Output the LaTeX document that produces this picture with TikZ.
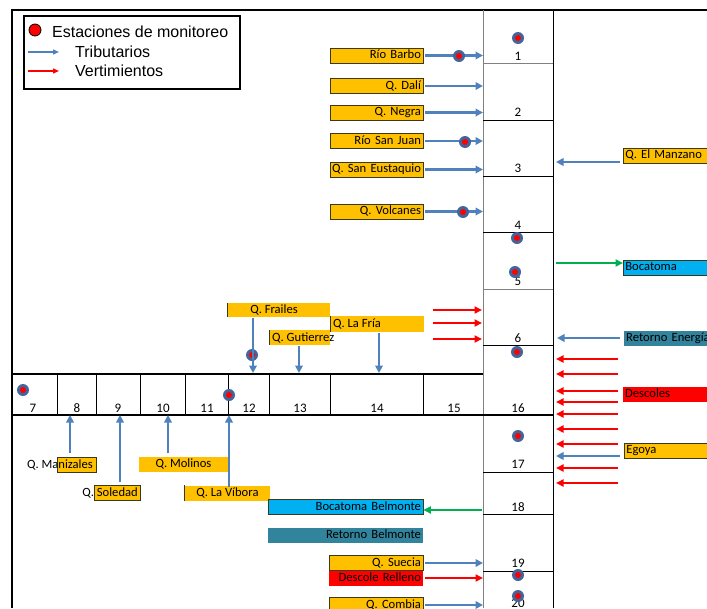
\documentclass[tikz,border=0pt]{standalone}
\usepackage{fontspec}
\setmainfont{Carlito}
\newfontfamily\arialf{Liberation Sans}
\usetikzlibrary{arrows.meta}
\definecolor{gold}{HTML}{FFC000}
\definecolor{sky}{HTML}{00B0F0}
\definecolor{teal}{HTML}{31849B}
\definecolor{tribblue}{HTML}{4F81BD}
\definecolor{dotblue}{HTML}{41669C}
\definecolor{boxline}{HTML}{3A3A1A}
\definecolor{vgreen}{HTML}{00B050}
\definecolor{cellgray}{HTML}{808080}
\begin{document}
\begin{tikzpicture}[x=1pt,y=-1pt,
  lbl/.style={inner sep=0pt, font=\fontsize{12.6}{15}\selectfont},
  num/.style={inner sep=0pt, font=\fontsize{13}{15}\selectfont},
  obox/.style={lbl, minimum height=15pt, inner xsep=2pt, text height=9pt, text depth=2.6pt},
  bordered/.style={draw=boxline, line width=0.7pt},
  tri/.style={draw=tribblue, line width=2.3pt, -{Triangle[length=7.5pt,width=7.5pt]}},
  vert/.style={draw=red, line width=2pt, -{Triangle[length=7.5pt,width=7pt]}},
  intake/.style={draw=vgreen, line width=2pt, -{Triangle[length=7.5pt,width=7pt]}},
  station/.style={circle, fill=dotblue, minimum size=12pt, inner sep=0pt,
    path picture={\fill[red] (path picture bounding box.center) circle (3pt);}},
  cell/.style={line width=0.8pt},
]
\useasboundingbox (0,0) rectangle (707,608);
\clip (0,0) rectangle (707,608);

% outer frame
\draw[line width=1.8pt] (12,608) -- (12,10) -- (707,10);

% legend
\node[draw, line width=1.2pt, minimum width=216pt, minimum height=73pt, inner sep=0pt] (legend) at (132,52.5) {};
\node[circle, fill=red, draw=black, line width=0.8pt, minimum size=12pt, inner sep=0pt] (legdot) at (35,30) {};
\node[anchor=west, inner sep=0pt, font=\arialf\fontsize{16}{18}\selectfont] (legst) at (52,32) {Estaciones de monitoreo};
\coordinate (legt0) at (28,52);
\coordinate (legt1) at (59,52);
\coordinate (legv0) at (28,71);
\coordinate (legv1) at (59,71);
\draw[draw=tribblue, line width=1.4pt, -{Triangle[length=6pt,width=5pt]}] (legt0) -- (legt1);
\draw[draw=red, line width=1.4pt, -{Triangle[length=6pt,width=5pt]}] (legv0) -- (legv1);
\node[anchor=west, inner sep=0pt, font=\arialf\fontsize{16}{18}\selectfont] (legtr) at (75,52) {Tributarios};
\node[anchor=west, inner sep=0pt, font=\arialf\fontsize{16}{18}\selectfont] (legve) at (75,71) {Vertimientos};

% main channel column
\coordinate (colL) at (483,0);
\coordinate (colR) at (553,0);
\draw[cell, draw=cellgray] (483,10) -- (483,608);
\draw[cell] (553,10) -- (553,608);
\draw[cell, draw=cellgray] (483,63) -- (553,63);
\draw[cell] (483,120) -- (553,120);
\draw[cell] (483,176) -- (553,176);
\draw[cell] (483,232) -- (553,232);
\draw[cell, draw=cellgray] (483,289) -- (553,289);
\draw[cell] (483,345) -- (553,345);
\draw[cell] (483,472) -- (553,472);
\draw[cell] (483,514) -- (553,514);
\draw[cell] (483,571) -- (553,571);

% cross band
\draw[line width=1.3pt] (12,374) -- (483,374);
\draw[line width=1.3pt] (12,415) -- (553,415);
\foreach \x in {57,96,140,185,228,269,330,423}
  \draw[cell] (\x,374) -- (\x,415);

% column numbers
\foreach \n/\y in {1/56,2/112,3/168,4/225,5/281,6/338,16/408,17/464,18/507,19/563,20/603}
  \node[num] (k\n) at (518,\y) {\n};
% band numbers
\foreach \n/\x in {7/33,8/77,9/118,10/163,11/207,12/249,13/300,14/377,15/454}
  \node[num] (k\n) at (\x,408) {\n};

% left tributaries
\node[obox, bordered, fill=gold, text width=89pt, align=right] (barbo) at (376.5,55.5) {Río Barbo};
\node[obox, bordered, fill=gold, text width=89pt, align=right] (dali) at (376.5,86) {Q. Dalí};
\node[obox, bordered, fill=gold, text width=89pt, align=right] (negra) at (376.5,112.5) {Q. Negra};
\node[obox, bordered, fill=gold, text width=89pt, align=right] (sjuan) at (376.5,141) {Río San Juan};
\node[obox, bordered, fill=gold, text width=89pt, align=right] (eust) at (376.5,169.5) {\mbox{Q. San Eustaquio}};
\node[obox, bordered, fill=gold, text width=89pt, align=right] (volc) at (376.5,211.5) {Q. Volcanes};
\foreach \b in {barbo,dali,negra,sjuan,eust,volc}
  \draw[tri, shorten <=2pt] (\b.east) -- (\b.east -| colL);

% stations
\foreach \nm/\x/\y in {s1/518/38,s4/517/238,s5/515/272,s6/517/352,s16/518/436,s19/518/575,s20/518/596,
  s7/23/390,s12/229/395,sbarbo/459/56,sjuan/465/142,svolc/463/212,sfrail/252/355}
  \node[station] (\nm) at (\x,\y) {};

% right side
\node[obox, bordered, fill=gold, anchor=west, text width=80pt, align=left] (manz) at (623,155.5) {\mbox{Q. El Manzano}};
\coordinate (manzA) at (620,162);
\draw[tri, shorten >=3pt] (manzA) -- (manzA -| colR);
\node[obox, bordered, fill=sky, anchor=west, text width=90pt, align=left] (boca) at (623,267.5) {Bocatoma};
\coordinate (bocaA) at (556,263);
\draw[intake] (bocaA) -- (bocaA -| boca.west);
\node[obox, fill=teal, anchor=west, text width=100pt, align=left] (retE) at (624,338) {\mbox{Retorno Energía}};
\draw[tri, shorten >=4pt, shorten <=4pt] (retE.west) -- (retE.west -| colR);
\node[obox, fill=red, anchor=west, text width=100pt, align=left] (desc) at (623,394.5) {Descoles};
\node[obox, bordered, fill=gold, anchor=west, text width=100pt, align=left] (egoya) at (624,450.5) {Egoya};
\foreach \i/\y in {1/359,2/374,3/391,4/402,5/414,6/429,7/444,8/468,9/483}{
  \coordinate (dsc\i) at (618,\y);
  \draw[vert, shorten >=3pt] (dsc\i) -- (dsc\i -| colR);
}
\coordinate (egoA) at (620,456);
\draw[tri, shorten >=3pt] (egoA) -- (egoA -| colR);

% upper tributaries to the band
\fill[gold] (227,303) rectangle (330,317);
\node[lbl] (frail) at (274,310) {Q. Frailes};
\draw[boxline, line width=1pt] (227,303) -- (227,317);
\fill[gold] (330,316) rectangle (424,332);
\node[lbl, anchor=west] (fria) at (333,324) {Q. La Fría};
\draw[boxline, line width=1pt] (330,316) -- (330,332);
\fill[gold] (269,330) rectangle (330,345);
\node[lbl, anchor=west] (guti) at (272,338) {Q. Gutierrez};
\draw[boxline, line width=1pt] (269,330) -- (269,345);
\coordinate (frailA) at (253,318);
\coordinate (gutiA) at (299,346);
\coordinate (friaA) at (379,333);
\draw[tri] (frailA) -- (253,373);
\draw[tri] (gutiA) -- (299,373);
\draw[tri] (friaA) -- (379,373);
\foreach \i/\y in {1/310,2/323,3/339}{
  \coordinate (vm\i) at (433,\y);
  \draw[vert, shorten >=1pt] (vm\i) -- (vm\i -| colL);
}

% lower tributaries to the band
\node[obox, bordered, fill=gold, minimum width=39pt, inner xsep=0pt] (maniz) at (76.5,464.5) {};
\node[lbl, anchor=east] (manizT) at (93,464.5) {Q. Manizales};
\node[obox, bordered, fill=gold, minimum width=46pt, inner xsep=0pt] (sole) at (117,493) {};
\node[lbl, anchor=east] (soleT) at (138,493) {Q. Soledad};
\node[obox, fill=gold, minimum width=89pt, inner xsep=0pt] (moli) at (183.5,464.5) {Q. Molinos};
\node[obox, fill=gold, minimum width=85pt, inner xsep=0pt] (vibo) at (227.5,493) {Q. La Víbora};
\draw[boxline, line width=1pt] (vibo.north west) -- (vibo.south west);
\coordinate (manizA) at (70,453);
\coordinate (soleA) at (120,482);
\coordinate (moliA) at (168,453);
\coordinate (viboA) at (229,487);
\foreach \c in {manizA,soleA,moliA,viboA}
  \draw[tri] (\c) -- (\c |- 0,415);

% lower reach
\node[obox, bordered, fill=sky, text width=151pt, align=right] (bbel) at (345.5,507) {Bocatoma Belmonte};
\coordinate (bbelA) at (483,510);
\draw[intake, shorten <=1pt] (bbelA) -- (bbelA -| bbel.east);
\node[obox, fill=teal, text width=151pt, align=right] (rbel) at (345.5,535.5) {Retorno Belmonte};
\node[obox, bordered, fill=gold, text width=90pt, align=right] (suec) at (376,563) {Q. Suecia};
\node[obox, fill=red, text width=90pt, align=right] (drel) at (376,578) {\mbox{Descole Relleno}};
\node[obox, bordered, fill=gold, text width=90pt, align=right] (comb) at (376,605) {Q. Combia};
\draw[tri, shorten <=2pt] (suec.east) -- (suec.east -| colL);
\draw[vert, shorten <=2pt] (drel.east) -- (drel.east -| colL);
\draw[tri, shorten <=2pt] (comb.east) -- (comb.east -| colL);
\end{tikzpicture}
\end{document}
